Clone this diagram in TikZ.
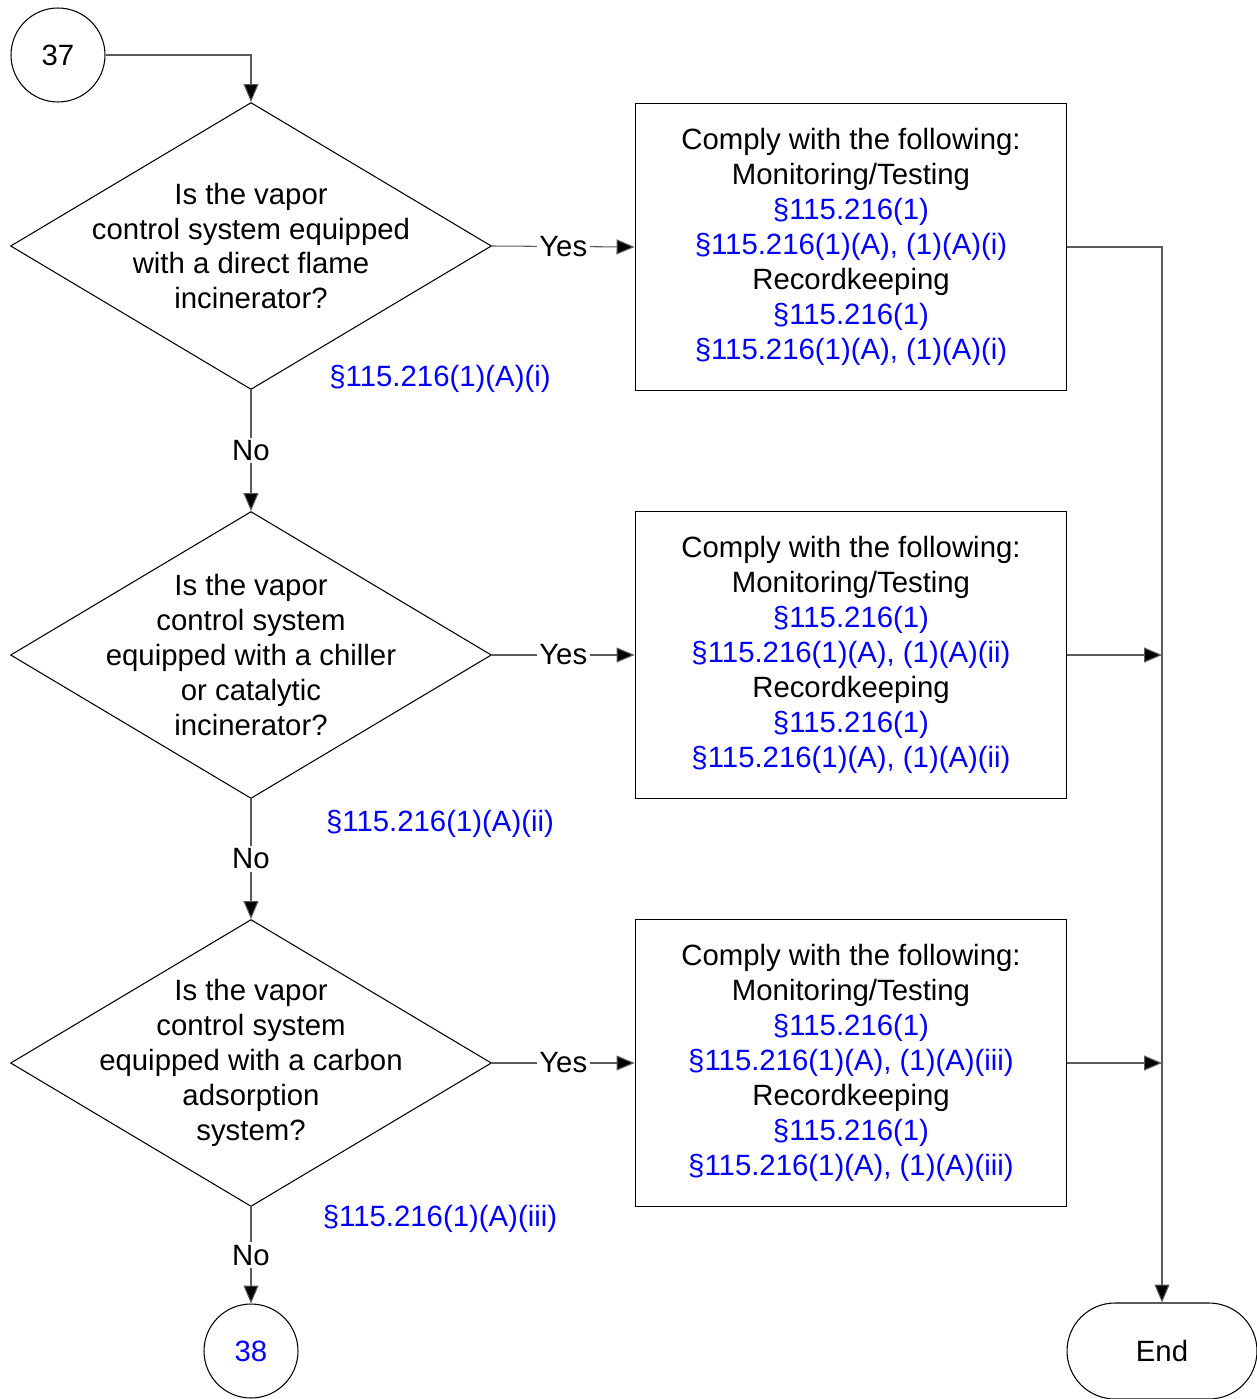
\documentclass[tikz,border=0pt]{standalone}
\usepackage{fontspec}
\setmainfont{Liberation Sans}
\usepackage{xcolor}
\usetikzlibrary{arrows.meta,shapes.geometric,positioning}
\definecolor{refBlue}{RGB}{0,0,255}
\definecolor{lineGrey}{RGB}{90,90,90}
\newcommand{\regref}[1]{\textcolor{refBlue}{#1}}

\begin{document}
\begin{tikzpicture}[x=0.02cm,y=-0.02cm,
  every node/.style={font=\fontsize{16.7}{19.9}\selectfont},
  decision/.style={diamond,draw,line width=.6pt,minimum width=9.62cm,minimum height=5.74cm,inner sep=0pt},
  qtext/.style={align=center,inner sep=0pt},
  actbox/.style={rectangle,draw,line width=.6pt,minimum width=8.64cm,minimum height=5.74cm,align=center},
  connector/.style={circle,draw,line width=.6pt,minimum size=1.88cm,inner sep=0pt},
  endbox/.style={rectangle,draw,line width=.6pt,rounded corners=.96cm,minimum width=3.8cm,minimum height=1.92cm},
  flow/.style={draw=lineGrey,line width=.6pt,-{Triangle[length=.36cm,width=.3cm,fill=black]}},
  lbl/.style={fill=white,inner sep=1.5pt},
  reftext/.style={text=refBlue}]
\useasboundingbox (0,0) rectangle (1257,1399);
% connectors and end
\node[connector] (c37) at (58,55) {37};
\node[connector] (c38) at (251,1351) {\regref{38}};
\node[endbox] (end) at (1162,1351) {End};
% decisions
\node[decision] (d1) at (251,246) {};
\node[qtext] at (d1) {Is the vapor\\control system equipped\\with a direct flame\\incinerator?};
\node[decision] (d2) at (251,655) {};
\node[qtext] at (d2) {Is the vapor\\control system\\equipped with a chiller\\or catalytic\\incinerator?};
\node[decision] (d3) at (251,1063) {};
\node[qtext] at (d3) {Is the vapor\\control system\\equipped with a carbon\\adsorption\\system?};
\node[reftext] (r1) at (440,379) {§115.216(1)(A)(i)};
\node[reftext] (r2) at (440,824) {§115.216(1)(A)(ii)};
\node[reftext] (r3) at (440,1219) {§115.216(1)(A)(iii)};
% requirement boxes
\node[actbox] (b1) at (851,247) {Comply with the following:\\Monitoring/Testing\\\regref{§115.216(1)}\\\regref{§115.216(1)(A), (1)(A)(i)}\\Recordkeeping\\\regref{§115.216(1)}\\\regref{§115.216(1)(A), (1)(A)(i)}};
\node[actbox] (b2) at (851,655) {Comply with the following:\\Monitoring/Testing\\\regref{§115.216(1)}\\\regref{§115.216(1)(A), (1)(A)(ii)}\\Recordkeeping\\\regref{§115.216(1)}\\\regref{§115.216(1)(A), (1)(A)(ii)}};
\node[actbox] (b3) at (851,1063) {Comply with the following:\\Monitoring/Testing\\\regref{§115.216(1)}\\\regref{§115.216(1)(A), (1)(A)(iii)}\\Recordkeeping\\\regref{§115.216(1)}\\\regref{§115.216(1)(A), (1)(A)(iii)}};
% flow lines
\draw[flow] (c37.east) -| (d1.north);
\draw[flow] (d1.south) -- node[lbl]{No} (d2.north);
\draw[flow] (d2.south) -- node[lbl]{No} (d3.north);
\draw[flow] (d3.south) -- node[lbl]{No} (c38.north);
\draw[flow] (d1.east) -- node[lbl]{Yes} (b1.west);
\draw[flow] (d2.east) -- node[lbl]{Yes} (b2.west);
\draw[flow] (d3.east) -- node[lbl]{Yes} (b3.west);
\draw[flow] (b1.east) -| (end.north);
\draw[flow] (b2.east) -- (b2.east -| end.north);
\draw[flow] (b3.east) -- (b3.east -| end.north);
\end{tikzpicture}
\end{document}
